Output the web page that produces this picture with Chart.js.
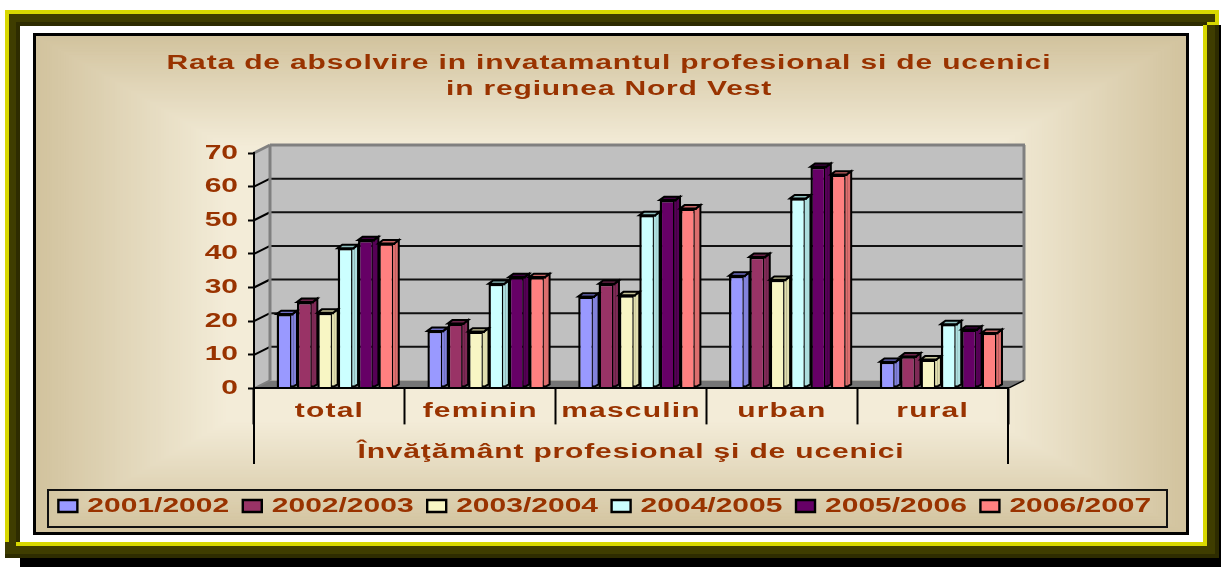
<!DOCTYPE html>
<html><head><meta charset="utf-8">
<style>html,body{margin:0;padding:0;background:#fff;overflow:hidden}canvas{display:block;filter:blur(0.45px)}</style>
<script src="https://cdn.jsdelivr.net/npm/chart.js@4"></script>
</head><body><canvas id="c" width="1221" height="567"></canvas>
<script>
const categories = ['total','feminin','masculin','urban','rural'];
const seriesNames = ['2001/2002','2002/2003','2003/2004','2004/2005','2005/2006','2006/2007'];
const v2001 = [21.8, 16.8, 27, 33.2, 7.6];
const v2002 = [25.4, 19, 30.8, 38.8, 9.2];
const v2003 = [22.2, 16.6, 27.4, 32, 8.3];
const v2004 = [41.4, 30.8, 51.2, 56.2, 18.8];
const v2005 = [43.8, 32.8, 55.7, 65.6, 17.2];
const v2006 = [42.8, 32.8, 53.2, 63.3, 16.2];
const seriesValues = [v2001, v2002, v2003, v2004, v2005, v2006];
const frontColors = ['#9999FF','#993366','#F8F6C4','#CCFFFF','#660066','#FF8080'];
const sideColors  = ['#8282DC','#7F2A56','#E0DEAE','#ACDEDE','#560056','#DC6E6E'];
const topColors   = ['#6E6EC4','#6B2348','#C8C69A','#8FC0C0','#3E003E','#C86464'];
const titleLines = ['Rata de absolvire in invatamantul profesional si de ucenici','in regiunea Nord Vest'];
const axisTitle = 'Învăţământ profesional şi de ucenici';
const TXT = '#993300', STRETCH = 1.5, DX = 16, DY = 8;

const canvas = document.getElementById('c');
const ctx = canvas.getContext('2d');
// The original text is horizontally stretched: apply this to all text the library draws.
const oFill = ctx.fillText.bind(ctx), oMeasure = ctx.measureText.bind(ctx);
ctx.fillText = function(t, x, y){
  ctx.save(); ctx.translate(x, y); ctx.scale(STRETCH, 1);
  ctx.letterSpacing = categories.includes(t) ? '0.8px' : (/[a-z]/.test(t) ? '0.56px' : '0px');
  oFill(t, 0, 0); ctx.restore();
};
ctx.measureText = function(t){ return {width: oMeasure(t).width * STRETCH}; };

function rect(c, col, x0, y0, x1, y1){ c.fillStyle = col; c.fillRect(x0, y0, x1 - x0, y1 - y0); }
function poly(c, col, pts, stroke, lw){
  c.beginPath(); pts.forEach((p, i) => i ? c.lineTo(p[0], p[1]) : c.moveTo(p[0], p[1])); c.closePath();
  if (col) { c.fillStyle = col; c.fill(); }
  if (stroke) { c.strokeStyle = stroke; c.lineWidth = lw; c.stroke(); }
}
function line(c, col, lw, x0, y0, x1, y1){ c.strokeStyle = col; c.lineWidth = lw; c.beginPath(); c.moveTo(x0, y0); c.lineTo(x1, y1); c.stroke(); }

const decor = {
  id: 'decor',
  afterLayout(chart){ chart.legend.left -= 4.2; chart.legend.right -= 4.2; },
  beforeDraw(chart){
    const c = chart.ctx;
    c.save();
    rect(c, '#fff', 0, 0, 1221, 567);
    // shadow + frame
    rect(c, '#000', 1215, 25, 1221, 567);
    rect(c, '#000', 20, 554, 1221, 567);
    rect(c, '#D8D800', 5, 10, 1219, 26);
    rect(c, '#3F3D00', 9, 14, 1215, 22);
    rect(c, '#2E2C00', 16, 22, 1207, 26);
    rect(c, '#D8D800', 5, 10, 9, 542);
    rect(c, '#3F3D00', 9, 14, 16, 542);
    rect(c, '#2E2C00', 16, 22, 20, 542);
    rect(c, '#3F3D00', 5, 542, 1215, 554);
    rect(c, '#2E2C00', 5, 554, 1219, 558);
    rect(c, '#D8D800', 16, 542, 1207, 546);
    rect(c, '#D8D800', 1203, 25, 1207, 546);
    rect(c, '#3F3D00', 1207, 25, 1215, 554);
    rect(c, '#2E2C00', 1215, 25, 1219, 558);
    rect(c, '#fff', 20, 26, 1203, 542);
    // chart panel, rectangular path gradient
    rect(c, '#000', 33, 33, 1189, 535);
    const steps = 70, a = [210,195,158], b = [243,236,216];
    for (let i = 0; i <= steps; i++) {
      const t = i / steps, ix = t * 190, iy = t * 110;
      const col = a.map((v, k) => Math.round(v + (b[k] - v) * t));
      rect(c, `rgb(${col})`, 36 + ix, 36 + iy, 1186 - ix, 532 - iy);
    }
    // 3D walls from the library's scales
    const y = chart.scales.y, x = chart.scales.x;
    const L = x.left, R = x.right, T = y.getPixelForValue(y.max), B = y.getPixelForValue(0);
    poly(c, '#C0C0C0', [[L,T],[L+DX,T-DY],[L+DX,B-DY],[L,B]]);
    rect(c, '#C0C0C0', L+DX, T-DY, R+DX, B-DY);
    poly(c, '#767676', [[L,B],[L+DX,B-DY],[R+DX,B-DY],[R,B]]);
    y.ticks.forEach(tk => {
      const py = y.getPixelForValue(tk.value);
      if (tk.value === 0 || tk.value === y.max) return;
      line(c, '#000', 2, L, py, L+DX, py-DY);
      line(c, '#111', 2, L+DX, py-DY, R+DX, py-DY);
    });
    line(c, '#808080', 3, L, T, L+DX, T-DY);
    line(c, '#808080', 3, L+DX, T-DY, R+DX+1, T-DY);
    line(c, '#808080', 3, L+DX, T-DY, L+DX, B-DY);
    line(c, '#808080', 3, R+DX, T-DY, R+DX, B-DY);
    line(c, '#000', 1.5, R, B, R+DX, B-DY);
    line(c, '#808080', 2, L, B, L+DX, B-DY);
    // legend frame
    c.strokeStyle = '#111'; c.lineWidth = 2; c.strokeRect(48, 490, 1119, 37);
    c.restore();
  },
  beforeDatasetsDraw(chart){ chart.ctx.save(); chart.ctx.translate(6, -1); },
  afterDatasetsDraw(chart){
    const c = chart.ctx, d = 4.6, h = 3.4;
    chart.data.datasets.forEach((ds, i) => {
      chart.getDatasetMeta(i).data.forEach(b => {
        const l = b.x - b.width / 2, r = b.x + b.width / 2, t = b.y, base = b.base;
        poly(c, sideColors[i], [[r,t],[r+d,t-h],[r+d,base-h+1],[r,base]], '#000', 2);
        poly(c, topColors[i], [[l,t],[l+d,t-h],[r+d,t-h],[r,t]], '#000', 2);
        line(c, sideColors[i], 2.4, r, t + 1.5, r, base - 1.5);
      });
    });
    c.restore();
  },
  afterDraw(chart){
    const c = chart.ctx, x = chart.scales.x, y = chart.scales.y, B = y.getPixelForValue(0);
    const al = Chart.helpers._alignPixel;
    line(c, '#000', 2, al(chart, x.left, 2), B, al(chart, x.left, 2), 464);
    line(c, '#000', 2, al(chart, x.right, 2), B, al(chart, x.right, 2), 464);
  }
};

new Chart(ctx, {
  type: 'bar',
  data: {
    labels: categories,
    datasets: seriesNames.map((n, i) => ({
      label: n, data: seriesValues[i], backgroundColor: frontColors[i],
      borderColor: '#000', borderWidth: 2.4, barPercentage: 0.775, categoryPercentage: 0.81, clip: false
    }))
  },
  options: {
    responsive: false, animation: false, devicePixelRatio: 1,
    layout: {padding: {left: 0, right: 3, top: 0, bottom: 41}},
    font: {family: '"Liberation Sans"'},
    plugins: {
      tooltip: {enabled: false},
      title: {display: true, text: titleLines, color: TXT, padding: {top: 50, bottom: 51},
        font: {family: '"Liberation Sans"', size: 20, weight: 'bold', lineHeight: 1.3}},
      legend: {position: 'bottom', labels: {boxWidth: 19, boxHeight: 12, padding: 13.6, color: TXT,
        font: {family: '"Liberation Sans"', size: 20, weight: 'bold'}}}
    },
    scales: {
      x: {
        afterFit: s => { s.height = 94; },
        border: {display: true, color: '#000', width: 2},
        grid: {drawOnChartArea: false, drawTicks: true, tickColor: '#000', tickWidth: 2, tickLength: 36},
        ticks: {color: TXT, padding: -25, maxRotation: 0, autoSkip: false,
          font: {family: '"Liberation Sans"', size: 20, weight: 'bold'}},
        title: {display: true, text: axisTitle, color: TXT, padding: {top: 0, bottom: 18},
          font: {family: '"Liberation Sans"', size: 20, weight: 'bold'}}
      },
      y: {
        min: 0, max: 70,
        afterFit: s => { s.width = 254; },
        border: {display: true, color: '#000', width: 2},
        grid: {drawOnChartArea: false, drawTicks: true, tickColor: '#000', tickWidth: 2, tickLength: 6},
        ticks: {stepSize: 10, color: TXT, padding: 10,
          font: {family: '"Liberation Sans"', size: 20, weight: 'bold'}}
      },
      yr: {
        type: 'linear', position: 'right', display: true, min: 0, max: 70,
        afterFit: s => { s.width = 210; },
        border: {display: false}, grid: {display: false}, ticks: {display: false}
      }
    }
  },
  plugins: [decor]
});
</script></body></html>
